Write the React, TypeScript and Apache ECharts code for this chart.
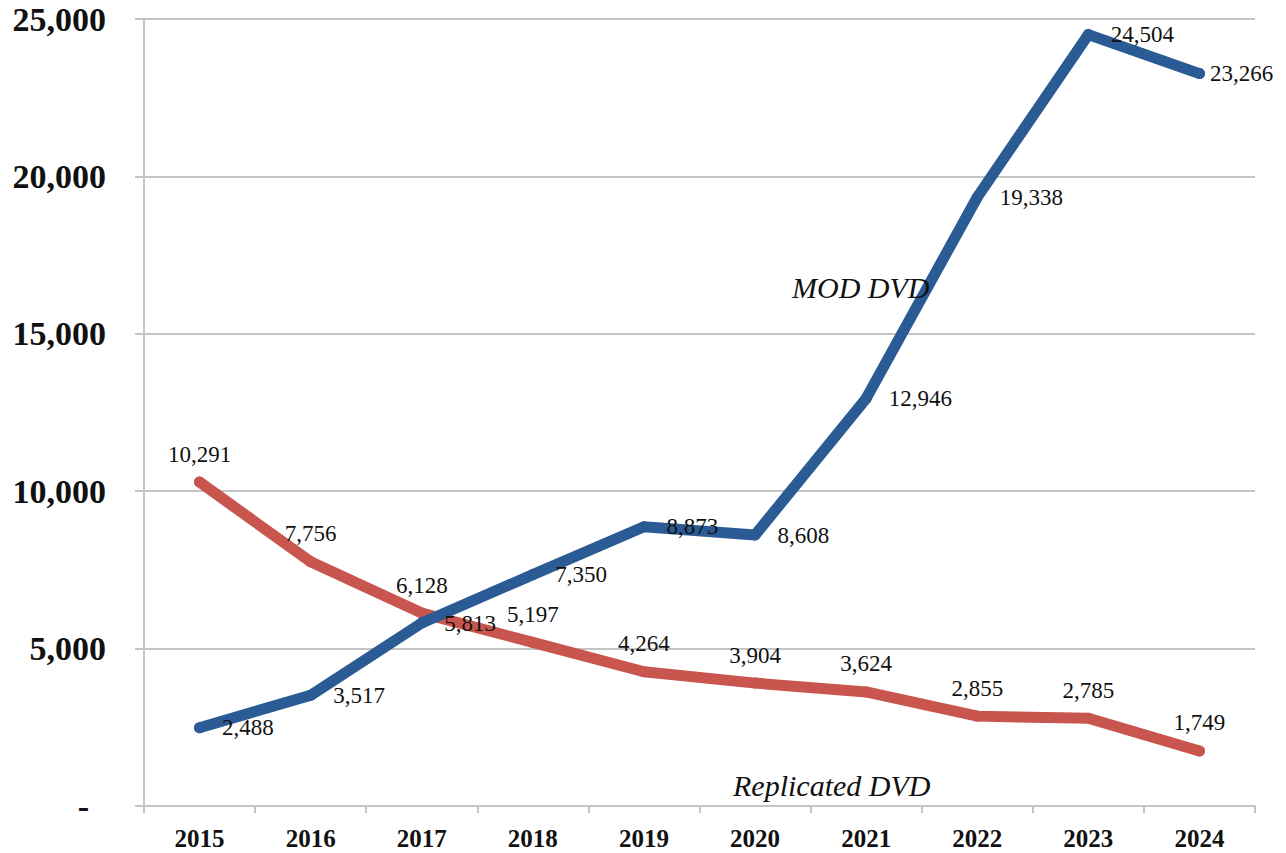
import React, { useEffect, useRef } from 'react';
import * as echarts from 'echarts';

const years = ['2015', '2016', '2017', '2018', '2019', '2020', '2021', '2022', '2023', '2024'];
const modDvd = [2488, 3517, 5813, 7350, 8873, 8608, 12946, 19338, 24504, 23266];
const replicatedDvd = [10291, 7756, 6128, 5197, 4264, 3904, 3624, 2855, 2785, 1749];
const seriesNames = ['MOD DVD', 'Replicated DVD'];
const yMin = 0;
const yMax = 25000;
const yInterval = 5000;

const FONT = "'Liberation Serif', 'Times New Roman', serif";
const BLUE = '#2a5b94';
const RED = '#c9554f';
const GRID = '#c4c4c4';

const fmt = (v: number) => v.toLocaleString('en-US');

export default function App() {
  const ref = useRef<HTMLDivElement>(null);

  useEffect(() => {
    if (!ref.current) return;
    const chart = echarts.init(ref.current, undefined, { renderer: 'svg' });

    const modData = modDvd.map((v, i) =>
      i === modDvd.length - 1 ? { value: v, label: { distance: 5 } } : v
    );

    chart.setOption({
      animation: false,
      backgroundColor: '#ffffff',
      grid: { left: 144, right: 31, top: 19, bottom: 47, containLabel: false },
      xAxis: {
        type: 'category',
        data: years,
        boundaryGap: true,
        axisLine: { show: true, lineStyle: { color: GRID, width: 2 } },
        axisTick: { show: true, length: 7, lineStyle: { color: GRID, width: 2 } },
        axisLabel: {
          margin: 20,
          fontFamily: FONT,
          fontSize: 25,
          fontWeight: 'bold',
          color: '#111',
        },
        splitLine: { show: false },
      },
      yAxis: {
        type: 'value',
        min: yMin,
        max: yMax,
        interval: yInterval,
        axisLine: { show: true, lineStyle: { color: GRID, width: 2 } },
        axisTick: { show: true, length: 9, lineStyle: { color: GRID, width: 2 } },
        axisLabel: {
          margin: 38,
          fontFamily: FONT,
          fontSize: 34,
          fontWeight: 'bold',
          color: '#111',
          formatter: (v: number) => (v === 0 ? '{d|-}' : fmt(v)),
          rich: {
            d: {
              fontFamily: FONT,
              fontSize: 34,
              fontWeight: 'bold',
              color: '#111',
              padding: [0, 17, 0, 0],
            },
          },
        },
        splitLine: { show: true, lineStyle: { color: GRID, width: 2 } },
      },
      series: [
        {
          name: seriesNames[1],
          type: 'line',
          data: replicatedDvd,
          silent: true,
          symbol: 'circle',
          symbolSize: 11,
          itemStyle: { color: RED },
          lineStyle: { color: RED, width: 11, cap: 'round', join: 'round' },
          label: {
            show: true,
            position: 'top',
            distance: 11,
            fontFamily: FONT,
            fontSize: 23,
            color: '#111',
            formatter: (p: any) => fmt(p.value),
          },
          z: 2,
        },
        {
          name: seriesNames[0],
          type: 'line',
          data: modData,
          silent: true,
          symbol: 'circle',
          symbolSize: 11,
          itemStyle: { color: BLUE },
          lineStyle: { color: BLUE, width: 11, cap: 'round', join: 'round' },
          label: {
            show: true,
            position: 'right',
            distance: 17,
            fontFamily: FONT,
            fontSize: 23,
            color: '#111',
            formatter: (p: any) => fmt(p.value),
          },
          z: 3,
        },
      ],
      graphic: [
        {
          type: 'text',
          x: 792,
          y: 287,
          z: 10,
          style: {
            text: seriesNames[0],
            font: `italic 30px ${FONT}`,
            fill: '#111',
            textAlign: 'left',
            textVerticalAlign: 'middle',
          },
        },
        {
          type: 'text',
          x: 733,
          y: 785,
          z: 10,
          style: {
            text: seriesNames[1],
            font: `italic 30px ${FONT}`,
            fill: '#111',
            textAlign: 'left',
            textVerticalAlign: 'middle',
          },
        },
      ],
    });

    return () => chart.dispose();
  }, []);

  return (
    <div
      ref={ref}
      style={{ position: 'fixed', left: 0, top: 0, width: 1286, height: 853, background: '#fff' }}
    />
  );
}
